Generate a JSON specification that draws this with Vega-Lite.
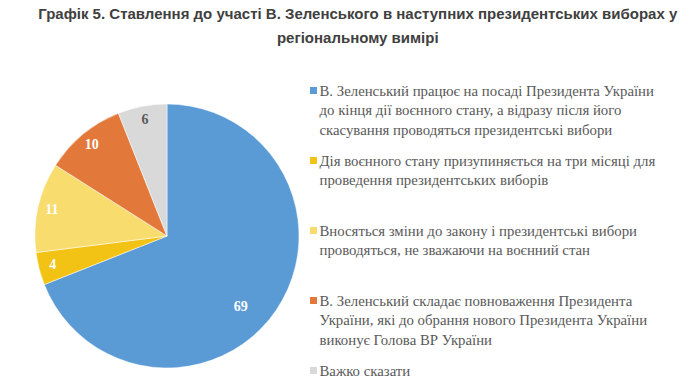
{
  "$schema": "https://vega.github.io/schema/vega-lite/v6.json",
  "padding": {"left": 32, "top": 6, "right": 0, "bottom": 0},
  "background": "white",
  "title": {
    "text": ["Графік 5. Ставлення до участі В. Зеленського в наступних президентських виборах у", "регіональному вимірі"],
    "anchor": "middle",
    "frame": "bounds",
    "font": "Liberation Sans",
    "fontSize": 15,
    "fontWeight": "bold",
    "color": "#404040",
    "lineHeight": 24,
    "offset": 38
  },
  "datasets": {
    "opts": [
      {"order": 1, "value": 69, "label": "В. Зеленський працює на посаді Президента України\nдо кінця дії воєнного стану, а відразу після його\nскасування проводяться президентські вибори"},
      {"order": 2, "value": 4, "label": "Дія воєнного стану призупиняється на три місяці для\nпроведення президентських виборів"},
      {"order": 3, "value": 11, "label": "Вносяться зміни до закону і президентські вибори\nпроводяться, не зважаючи на воєнний стан"},
      {"order": 4, "value": 10, "label": "В. Зеленський складає повноваження Президента\nУкраїни, які до обрання нового Президента України\nвиконує Голова ВР України"},
      {"order": 5, "value": 6, "label": "Важко сказати"}
    ]
  },
  "config": {"view": {"stroke": null}, "concat": {"spacing": 11.5}},
  "bounds": "flush",
  "hconcat": [
    {
      "width": 270,
      "height": 270,
      "data": {"name": "opts"},
      "encoding": {
        "theta": {"field": "value", "type": "quantitative", "stack": true},
        "order": {"field": "order", "type": "quantitative"}
      },
      "layer": [
        {
          "mark": {"type": "arc", "outerRadius": 132, "stroke": "white", "strokeWidth": 0.5},
          "encoding": {
            "color": {"field": "order", "type": "nominal", "legend": null,
              "scale": {"domain": [1, 2, 3, 4, 5], "range": ["#5B9BD5", "#F2C314", "#F8DC6E", "#E2793A", "#D9D9D9"]}}
          }
        },
        {
          "mark": {"type": "text", "radius": 118, "font": "Liberation Serif", "fontSize": 14, "fontWeight": "bold"},
          "encoding": {
            "text": {"condition": {"test": "datum.value < 50", "field": "value", "type": "quantitative"}, "value": ""},
            "color": {"condition": {"test": "datum.order == 5", "value": "#595959"}, "value": "white"}
          }
        },
        {
          "mark": {"type": "text", "radius": 100, "dx": -9, "dy": 15, "font": "Liberation Serif", "fontSize": 14, "fontWeight": "bold", "color": "white"},
          "encoding": {
            "text": {"condition": {"test": "datum.value >= 50", "field": "value", "type": "quantitative"}, "value": ""}
          }
        }
      ]
    },
    {
      "width": 370,
      "height": 270,
      "data": {"name": "opts"},
      "encoding": {
        "y": {"field": "order", "type": "ordinal", "axis": null, "scale": {"type": "point", "padding": 0, "range": [-10.5, 269.5]}},
        "x": {"datum": 0, "type": "quantitative", "axis": null, "scale": {"domain": [0, 1]}}
      },
      "layer": [
        {
          "mark": {"type": "square", "size": 49, "filled": true, "opacity": 1},
          "encoding": {
            "color": {"field": "order", "type": "nominal", "legend": null,
              "scale": {"domain": [1, 2, 3, 4, 5], "range": ["#5B9BD5", "#F2C314", "#F8DC6E", "#E2793A", "#D9D9D9"]}}
          }
        },
        {
          "mark": {"type": "text", "align": "left", "baseline": "alphabetic", "dx": 6, "dy": 5, "lineBreak": "\n", "lineHeight": 19.5, "font": "Liberation Serif", "fontSize": 14.8, "color": "#595959"},
          "encoding": {"text": {"field": "label"}}
        }
      ]
    }
  ]
}
